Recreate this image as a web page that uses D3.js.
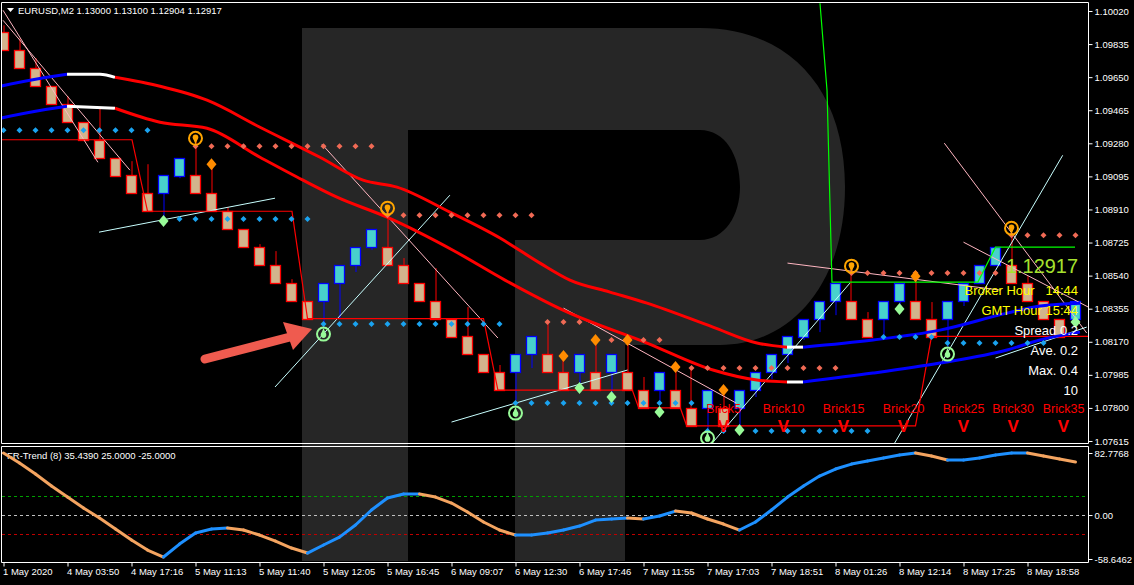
<!DOCTYPE html>
<html><head><meta charset="utf-8">
<script src="https://cdnjs.cloudflare.com/ajax/libs/d3/7.8.5/d3.min.js"></script>
<style>body{margin:0;background:#000;overflow:hidden}svg{display:block}</style>
</head><body><svg id="c" width="1134" height="585"></svg>
<script>
// ---------------- DATA ----------------
const brickOpen  = [1.0990,1.0980,1.0970,1.0960,1.0950,1.0940,1.0930,1.0920,1.0910,1.0900,
  1.0900,1.0910,1.0910,1.0900,1.0890,1.0880,1.0870,1.0860,1.0850,1.0840,
  1.0840,1.0850,1.0860,1.0870,1.0870,1.0860,1.0850,1.0840,1.0830,1.0820,
  1.0810,1.0800,1.0800,1.0810,1.0810,1.0800,1.0800,1.0800,1.0800,1.0800,
  1.0790,1.0790,1.0790,1.0780,1.0780,1.0780,1.0780,1.0790,1.0800,1.0810,
  1.0820,1.0830,1.0840,1.0840,1.0830,1.0830,1.0840,1.0840,1.0830,1.0830,
  1.0840,1.0850,1.0860,1.0860,1.0850,1.0840,1.0830,1.0830];
const brickClose = [1.0980,1.0970,1.0960,1.0950,1.0940,1.0930,1.0920,1.0910,1.0900,1.0890,
  1.0910,1.0920,1.0900,1.0890,1.0880,1.0870,1.0860,1.0850,1.0840,1.0830,
  1.0850,1.0860,1.0870,1.0880,1.0860,1.0850,1.0840,1.0830,1.0820,1.0810,
  1.0800,1.0790,1.0810,1.0820,1.0800,1.0790,1.0810,1.0790,1.0810,1.0790,
  1.0780,1.0800,1.0780,1.0770,1.0790,1.0770,1.0790,1.0800,1.0810,1.0820,
  1.0830,1.0840,1.0850,1.0830,1.0820,1.0840,1.0850,1.0830,1.0820,1.0840,
  1.0850,1.0860,1.0870,1.0850,1.0840,1.0830,1.0820,1.0840];
// wick extreme beyond the body (high for bear bricks, low for bull bricks)
const brickWick = [1.09940,1.09867,1.09756,null,1.09543,null,1.09482,null,1.09180,1.09163,
  1.08850,1.09085,1.09308,1.09163,1.08923,null,1.08716,1.08677,1.08520,null,
  1.08252,1.08302,1.08560,1.08683,1.08917,1.08638,null,1.08582,null,1.08364,
  null,1.08040,1.07844,1.08023,1.08291,1.08090,1.07917,1.08180,1.07861,1.08180,
  1.07973,1.07827,1.08029,1.08029,1.07677,1.07900,1.07677,1.07861,1.07962,1.08051,
  1.08180,1.08224,1.08319,1.08582,1.08336,1.08196,1.08358,1.08532,1.08392,1.08140,
  1.08370,null,null,1.08778,1.08537,null,null,1.08280];

const timeLabels = ["1 May 2020","4 May 03:50","4 May 17:16","5 May 11:13","5 May 11:40","5 May 12:05",
  "5 May 16:45","6 May 09:07","6 May 12:30","6 May 17:46","7 May 11:55","7 May 17:03","7 May 18:51",
  "8 May 01:26","8 May 12:14","8 May 17:25","8 May 18:58"];
const priceTicks = [1.10020,1.09835,1.09650,1.09465,1.09280,1.09095,1.08910,1.08725,1.08540,1.08355,1.08170,1.07985,1.07800,1.07615];
const frTicks = [82.7768,0,-58.6462];
const frTickLabels = ["82.7768","0.00","-58.6462"];
const frLevels = [25,0,-25];

// moving averages: [brick index], [price], [trend of segment: 1 up, 0 flat, -1 down]
const maAIdx = [-0.22,1.66,3.97,6.03,6.97,9.78,12.72,16.03,19.78,22.47,24.59,27.9,31.03,33.53,35.4,37.9,40.22,44.34,47.09,48.97,49.97,54.34,58.53,62.72,64.78,67.28];
const maAVal = [1.09599,1.09633,1.09666,1.09666,1.09649,1.09599,1.09521,1.09370,1.09202,1.09074,1.09035,1.08895,1.08750,1.08610,1.08515,1.08448,1.08386,1.08252,1.08163,1.08140,1.08140,1.08180,1.08235,1.08330,1.08370,1.08386];
const maATrend = [1,1,0,0,-1,-1,-1,-1,-1,-1,-1,-1,-1,-1,-1,-1,-1,-1,-1,0,1,1,1,1,1];
const maBIdx = [-0.22,1.66,3.97,6.97,9.78,12.72,16.03,18.72,20.84,23.97,28.09,31.34,34.97,40.22,44.34,47.09,48.97,49.97,54.34,58.53,62.72,64.78,67.28];
const maBVal = [1.09420,1.09454,1.09487,1.09476,1.09398,1.09364,1.09202,1.09074,1.08979,1.08867,1.08682,1.08515,1.08347,1.08163,1.08012,1.07956,1.07945,1.07945,1.07995,1.08051,1.08124,1.08180,1.08224];
const maBTrend = [1,1,0,-1,-1,-1,-1,-1,-1,-1,-1,-1,-1,-1,-1,-1,0,1,1,1,1,1];

// support (cyan) and resistance (salmon) dotted levels: [from idx, to idx, price]
const supportDots = [[0,9,1.09353],[10,19,1.08856],[20,31,1.08269],[32,43,1.07827],[44,54,1.07671],[55,58,1.08196],[59,65,1.08163]];
const resistDots = [[12,23,1.09264],[24,33,1.08878],[34,36,1.08280],[37,41,1.08180],[42,52,1.08023],[53,62,1.08554],[63,67,1.08766]];

// signal markers [idx, price]
const sellCircles = [[12,1.09308],[24,1.08917],[53,1.08593],[63,1.08805]];
const buyCircles  = [[20,1.08213],[32,1.07771],[44,1.07632],[59,1.08101]];
const sellDiamonds = [[13,1.09163],[35,1.08090],[37,1.08180],[39,1.08180],[42,1.08029],[45,1.07900],[57,1.08537]];
const buyDiamonds  = [[10,1.08845],[36,1.07911],[38,1.07861],[41,1.07777],[46,1.07677],[56,1.08353],[67,1.08280]];

// trailing step line [idx, price]
const stepLine = [[-0.5,1.0930],[8.03,1.0930],[9,1.0890],[18.03,1.0890],[19,1.0830],[30,1.0830],[30.9,1.0790],
  [39.3,1.0790],[39.7,1.0780],[42.3,1.0780],[42.7,1.0770],[57,1.0770],[58,1.0820],[67.8,1.0820]];

// trend lines [[idx,price],[idx,price]]
const pinkLines = [[[-0.03,1.10024],[5.9,1.09174]],[[-0.03,1.09968],[7.9,1.09130]],[[19.9,1.09275],[30.9,1.08191]],
  [[35,1.08358],[45.8,1.07827]],[[49,1.08610],[62.3,1.08459]],[[60,1.08727],[67.8,1.08364]],[[58.8,1.09281],[67.7,1.08219]]];
const cyanLines = [[[5.97,1.08783],[16.97,1.08973]],[[16.97,1.07917],[27.9,1.08990]],[[28,1.07721],[39,1.08012]],
  [[44.3,1.07604],[52.9,1.08498]],[[55.7,1.07604],[66.2,1.09213]],[[62,1.08079],[67.7,1.08252]]];
const zigzag = [[51.03,1.10063],[51.47,1.09577],[51.78,1.08504],[60.9,1.08504],[62,1.08699],[66.97,1.08699]];

// FR-Trend oscillator values per brick
const frTrend = [82.7,69.4,54.7,38.7,24.0,9.3,-4.0,-18.7,-33.4,-46.7,
  -56.0,-38.7,-24.0,-18.7,-17.3,-20.0,-26.7,-34.7,-44.0,-50.7,
  -40.0,-29.4,-13.3,6.7,22.7,28.0,28.0,24.0,16.0,4.0,
  -9.3,-20.0,-26.7,-26.7,-24.0,-20.0,-14.7,-6.7,-5.3,-4.0,
  -5.3,-1.3,5.3,2.7,-5.3,-12.0,-20.0,-9.3,6.7,24.0,
  38.7,52.0,61.4,68.0,72.0,76.1,80.1,82.7,78.7,73.4,
  73.4,76.1,80.1,82.7,82.7,78.7,74.7,70.7];

const brickLabels = ["Brick5","Brick10","Brick15","Brick20","Brick25","Brick30","Brick35"];
const brickLabelIdx = [45,48.75,52.5,56.25,60,63.1,66.25];
const infoLines = ["Broker Hour   14:44","GMT Hour 15:44","Spread 0.2","Ave. 0.2","Max. 0.4","10"];
const bigPrice = "1.12917";
const header = "EURUSD,M2  1.13000 1.13100 1.12904 1.12917";
const subHeader = "FR-Trend (8) 35.4390 25.0000 -25.0000";

// ---------------- DRAW ----------------
const W = 1134, H = 585;
const svg = d3.select('#c');
const FONT = "'Liberation Sans', Arial, sans-serif";
svg.append('rect').attr('width',W).attr('height',H).attr('fill','#000');

const x = d3.scaleLinear().domain([0,67]).range([3.5,1075.5]);
const y = d3.scaleLinear().domain([1.07615,1.10020]).range([441,11]);
const yF = d3.scaleLinear().domain([-58.6462,82.7768]).range([559,453]);

// watermark
const wm = svg.append('g').attr('fill','#262626');
wm.append('path').attr('d','M302,28H408V561H302Z');
wm.append('path').attr('d','M408,28H700C790,28 845,90 845,187C845,285 790,345 720,345H625V561H515V240H700C725,240 740,215 740,187C740,155 725,130 700,130H408Z');

const defs = svg.append('defs');
defs.append('clipPath').attr('id','mainClip').append('rect').attr('x',2).attr('y',3).attr('width',1086).attr('height',440);
defs.append('clipPath').attr('id','subClip').append('rect').attr('x',2).attr('y',447).attr('width',1086).attr('height',115);

const main = svg.append('g').attr('clip-path','url(#mainClip)');

// bricks
const bricks = d3.range(brickOpen.length).map(i=>({i,o:brickOpen[i],c:brickClose[i],w:brickWick[i]}));
const snap = v => Math.round(v)+0.5;
main.append('g').selectAll('line').data(bricks.filter(d=>d.w!==null)).join('line')
  .attr('x1',d=>snap(x(d.i))-0.5).attr('x2',d=>snap(x(d.i))-0.5)
  .attr('y1',d=>y(d.o)).attr('y2',d=>y(d.w))
  .attr('stroke',d=>d.c>d.o?'#0000ff':'#ff0000').attr('stroke-width',1);
main.append('g').selectAll('rect').data(bricks).join('rect')
  .attr('x',d=>x(d.i)-5).attr('width',10)
  .attr('y',d=>snap(y(Math.max(d.o,d.c)))).attr('height',d=>Math.round(y(Math.min(d.o,d.c))-y(Math.max(d.o,d.c))))
  .attr('fill',d=>d.c>d.o?'#48d1cc':'#d2b48c')
  .attr('stroke',d=>d.c>d.o?'#0000ff':'#ff0000').attr('stroke-width',1.3);

// trend lines
const lp = d3.line().x(d=>x(d[0])).y(d=>y(d[1]));
main.append('g').selectAll('path').data(pinkLines).join('path').attr('d',lp).attr('fill','none').attr('stroke','#ffb6c1').attr('stroke-width',1);
main.append('g').selectAll('path').data(cyanLines).join('path').attr('d',lp).attr('fill','none').attr('stroke','#c8ffff').attr('stroke-width',1);
main.append('path').datum(zigzag).attr('d',lp).attr('fill','none').attr('stroke','#00ff00').attr('stroke-width',1.2);

// step line
main.append('path').datum(stepLine).attr('d',lp).attr('fill','none').attr('stroke','#ff0000').attr('stroke-width',1.2);

// moving averages
function drawMA(idx,val,trend){
  const col = t => t>0?'#0000ff':(t<0?'#ff0000':'#ffffff');
  const lc = d3.line().x(d=>x(d[0])).y(d=>y(d[1])).curve(d3.curveMonotoneX);
  let start=0;
  for(let k=1;k<=trend.length;k++){
    if(k===trend.length||trend[k]!==trend[start]){
      const pts=[]; for(let j=start;j<=k;j++) pts.push([idx[j],val[j]]);
      main.append('path').datum(pts).attr('d',lc).attr('fill','none').attr('stroke',col(trend[start])).attr('stroke-width',3);
      start=k;
    }
  }
}
drawMA(maAIdx,maAVal,maATrend);
drawMA(maBIdx,maBVal,maBTrend);

// dotted levels
function dots(list,color){
  const pts=[]; list.forEach(([a,b,p])=>{for(let i=a;i<=b;i++) pts.push([i,p]);});
  main.append('g').selectAll('path').data(pts).join('path')
    .attr('d',d=>`M${x(d[0])},${y(d[1])-3}l3,3l-3,3l-3,-3Z`).attr('fill',color);
}
dots(supportDots,'#1aa3f0');
dots(resistDots,'#f06a55');

// diamonds
function diamonds(list,color){
  main.append('g').selectAll('path').data(list).join('path')
    .attr('d',d=>`M${x(d[0])},${y(d[1])-6}l5,6l-5,6l-5,-6Z`).attr('fill',color);
}
diamonds(sellDiamonds,'#ff8c00');
diamonds(buyDiamonds,'#98fb98');

// signal circles
function circles(list,color,up){
  const g = main.append('g').selectAll('g').data(list).join('g').attr('transform',d=>`translate(${x(d[0])},${y(d[1])})`);
  g.append('circle').attr('r',6.5).attr('fill','none').attr('stroke',color).attr('stroke-width',2);
  g.append('circle').attr('r',2.8).attr('cy',up?1:-1).attr('fill',color);
  g.append('path').attr('d',up?'M-2.5,0L0,-6L2.5,0Z':'M-2.5,0L0,6L2.5,0Z').attr('fill',color);
}
circles(sellCircles,'#ffa500',false);
circles(buyCircles,'#98fb98',true);

// annotation arrow
const arrowCol = '#ef5b4f';
svg.append('line').attr('x1',205).attr('y1',359).attr('x2',290).attr('y2',337).attr('stroke',arrowCol).attr('stroke-width',9).attr('stroke-linecap','round');
svg.append('path').attr('d','M312,329L283,322L293,350Z').attr('fill',arrowCol);

// texts in main panel
const tg = svg.append('g').attr('font-family',FONT);
tg.append('path').attr('d','M7,8H14L10.5,12Z').attr('fill','#fff');
tg.append('text').attr('x',18).attr('y',14).attr('fill','#fff').attr('font-size',9.5).text(header);
tg.append('text').attr('x',1078).attr('y',273).attr('text-anchor','end').attr('fill','#a6e22e').attr('font-size',21).attr('textLength',72).attr('lengthAdjust','spacingAndGlyphs').text(bigPrice);
const infoY = [295,315,335,355,375,395];
infoLines.forEach((t,k)=>{
  tg.append('text').attr('x',1078).attr('y',infoY[k]).attr('text-anchor','end')
    .attr('fill',k<2?'#ffff00':'#ffffff').attr('font-size',13).style('white-space','pre').text(t);
});
brickLabels.forEach((t,k)=>{
  const cx = x(brickLabelIdx[k]);
  tg.append('text').attr('x',cx).attr('y',413).attr('text-anchor','middle').attr('fill','#ff0000').attr('font-size',12.5).text(t);
  tg.append('text').attr('x',cx).attr('y',432).attr('text-anchor','middle').attr('fill','#ff0000').attr('font-size',17).attr('font-weight','bold').text('V');
});

// ---------------- sub panel ----------------
const sub = svg.append('g').attr('clip-path','url(#subClip)');
const lvlCol = ['#00a000','#c0c0c0','#c00000'];
frLevels.forEach((v,k)=>{
  sub.append('line').attr('x1',2).attr('x2',1088).attr('y1',Math.round(yF(v))+0.5).attr('y2',Math.round(yF(v))+0.5)
    .attr('stroke',lvlCol[k]).attr('stroke-dasharray','3,3').attr('stroke-width',1);
});
for(let i=0;i<frTrend.length-1;i++){
  sub.append('line').attr('x1',x(i)).attr('y1',yF(frTrend[i])).attr('x2',x(i+1)).attr('y2',yF(frTrend[i+1]))
    .attr('stroke',frTrend[i+1]>=frTrend[i]?'#1e90ff':'#f4a460').attr('stroke-width',3).attr('stroke-linecap','round');
}
tg.append('text').attr('x',7).attr('y',459).attr('fill','#fff').attr('font-size',9.5).text(subHeader);

// frames
const fr = svg.append('g').attr('fill','none').attr('stroke','#fff').attr('stroke-width',1);
fr.append('path').attr('d','M1.5,2.5H1088.5V443.5H1.5Z');
fr.append('path').attr('d','M1.5,446.5H1088.5V562.5H1.5Z');

// axes
const axR = svg.append('g').attr('transform','translate(1088.5,0)')
  .call(d3.axisRight(y).tickValues(priceTicks).tickFormat(d3.format('.5f')).tickSize(4).tickSizeOuter(0));
const axF = svg.append('g').attr('transform','translate(1088.5,0)')
  .call(d3.axisRight(yF).tickValues(frTicks).tickFormat((d,k)=>frTickLabels[k]).tickSize(4).tickSizeOuter(0));
const axB = svg.append('g').attr('transform','translate(0,562.5)')
  .call(d3.axisBottom(x).tickValues(d3.range(0,68,4)).tickFormat((d,k)=>timeLabels[k]).tickSize(4).tickSizeOuter(0));
[axR,axF,axB].forEach(a=>{
  a.select('.domain').remove();
  a.selectAll('line').attr('stroke','#fff');
  a.selectAll('text').attr('fill','#fff').attr('font-family',FONT).attr('font-size',9.5);
});
axR.selectAll('text').attr('x',6);
axF.selectAll('text').attr('x',6);
axB.selectAll('text').attr('text-anchor','start').attr('x',-1).attr('dy','0.71em').attr('y',6);
</script></body></html>
